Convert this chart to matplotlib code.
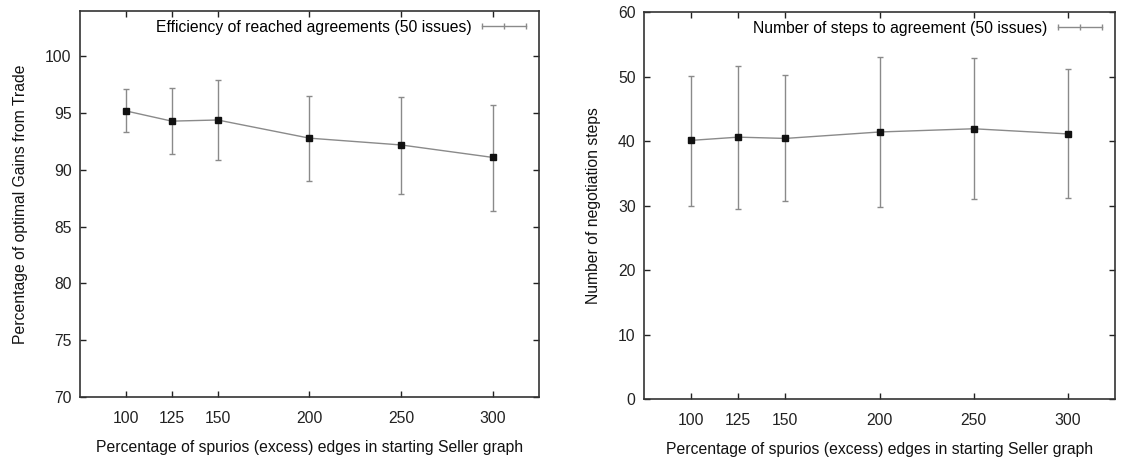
import matplotlib
matplotlib.use("Agg")
import matplotlib.pyplot as plt
from matplotlib.lines import Line2D

plt.rcParams['font.family'] = ['Liberation Sans', 'DejaVu Sans']

# Data
edges_pct = [100, 125, 150, 200, 250, 300]
x_ticks = [100, 125, 150, 200, 250, 300]

eff_mean = [95.2, 94.3, 94.4, 92.8, 92.2, 91.1]
eff_low = [93.3, 91.4, 90.9, 89.0, 87.9, 86.4]
eff_high = [97.1, 97.2, 97.9, 96.5, 96.4, 95.7]

steps_mean = [40.1, 40.6, 40.4, 41.4, 41.9, 41.1]
steps_low = [30.0, 29.5, 30.7, 29.8, 31.0, 31.1]
steps_high = [50.1, 51.7, 50.2, 53.1, 52.8, 51.1]

xlabel = "Percentage of spurios (excess) edges in starting Seller graph"
left_ylabel = "Percentage of optimal Gains from Trade"
right_ylabel = "Number of negotiation steps"
left_legend = "Efficiency of reached agreements (50 issues)"
right_legend = "Number of steps to agreement (50 issues)"
left_yticks = [70, 75, 80, 85, 90, 95, 100]
right_yticks = [0, 10, 20, 30, 40, 50, 60]

fig = plt.figure(figsize=(11.23, 4.57), dpi=100)
ax1 = fig.add_axes([0.0712, 0.1313, 0.4087, 0.8446])
ax2 = fig.add_axes([0.5735, 0.1269, 0.4194, 0.8468])

GRAY = '#8a8a8a'
FS = 11.3


def draw(ax, mean, low, high, ylim, yticks, ylabel, legend_label):
    yerr = [[m - l for m, l in zip(mean, low)], [h - m for m, h in zip(mean, high)]]
    ax.errorbar(edges_pct, mean, yerr=yerr, fmt='none', ecolor=GRAY,
                elinewidth=1.0, capsize=2.5, capthick=1.0, zorder=2)
    ax.plot(edges_pct, mean, color=GRAY, lw=1.0, zorder=3)
    ax.plot(edges_pct, mean, ls='none', marker='s', ms=3.8, color='#111111', zorder=4)
    ax.set_xlim(75, 325)
    ax.set_ylim(*ylim)
    ax.set_xticks(x_ticks)
    ax.set_yticks(yticks)
    ax.tick_params(direction='in', length=4, width=1.0, top=True, right=True,
                   labelsize=FS, colors='#222222')
    ax.tick_params(axis='x', pad=10)
    ax.tick_params(axis='y', pad=6)
    for s in ax.spines.values():
        s.set_linewidth(1.2)
        s.set_color('#333333')
    ax.set_xlabel(xlabel, fontsize=FS, labelpad=10, color='#111111')
    ax.set_ylabel(ylabel, fontsize=FS, labelpad=12, color='#111111')
    h = Line2D([], [], color=GRAY, lw=1.0, marker='|', ms=5, mew=1.0)
    ax.legend([h], [legend_label], loc='upper right', frameon=False,
              numpoints=3, markerfirst=False, handlelength=3.4,
              fontsize=FS, borderaxespad=0.15, handletextpad=0.35)


draw(ax1, eff_mean, eff_low, eff_high, (70, 104), left_yticks, left_ylabel, left_legend)
draw(ax2, steps_mean, steps_low, steps_high, (0, 60), right_yticks, right_ylabel, right_legend)

fig.savefig('out.png', dpi=100, facecolor='white')
